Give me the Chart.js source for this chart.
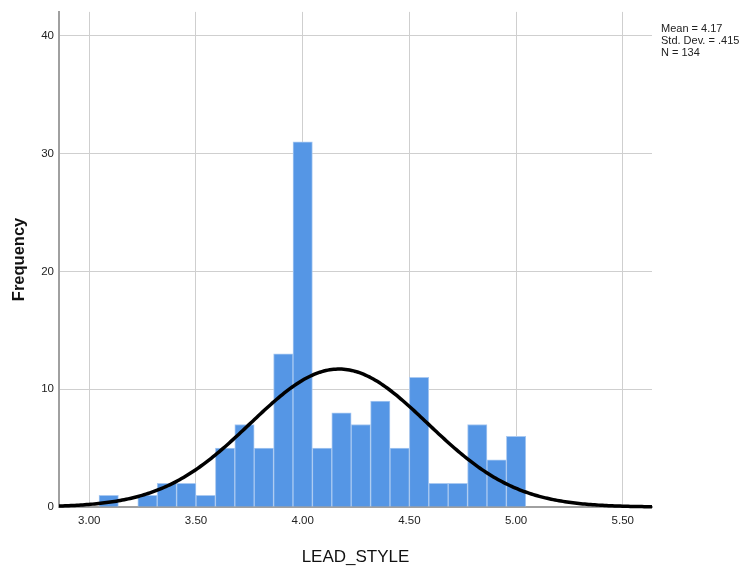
<!DOCTYPE html>
<html>
<head>
<meta charset="utf-8">
<script src="https://cdn.jsdelivr.net/npm/chart.js@4/dist/chart.umd.min.js"></script>
<style>
  html, body { margin: 0; padding: 0; background: #fff; }
  #wrap { width: 742px; height: 568px; position: relative; }
</style>
</head>
<body>
<div id="wrap"><canvas id="c" width="742" height="568"></canvas></div>
<script>
// LEAD_STYLE histogram: 22 bins of width 1/11, centred from 3.09 to 5.00
const binStart = 3.0 + 1 / 22;   // lower edge of the first bin
const binWidth = 1 / 11;
const binCounts = [1, 0, 1, 2, 2, 1, 5, 7, 5, 13, 31, 5, 8, 7, 9, 5, 11, 2, 2, 7, 4, 6];
const xTicks = [3.0, 3.5, 4.0, 4.5, 5.0, 5.5];
const yTicks = [0, 10, 20, 30, 40];
const xRange = [2.858, 5.637];
const yRange = [0, 42.03];
const statMean = 4.17;
const statSD = 0.415;
const statN = 134;
const statLines = ['Mean = 4.17', 'Std. Dev. = .415', 'N = 134'];

const barPoints = binCounts.map((c, i) => ({ x: binStart + (i + 0.5) * binWidth, y: c }));

// fitted normal curve scaled to the histogram's counts
const curvePoints = [];
for (let k = 0; k <= 300; k++) {
  const x = xRange[0] + (xRange[1] - xRange[0]) * k / 300;
  const z = (x - statMean) / statSD;
  const y = statN * binWidth * Math.exp(-0.5 * z * z) / (statSD * Math.sqrt(2 * Math.PI));
  curvePoints.push({ x, y });
}

const statsBox = {
  id: 'statsBox',
  afterDraw(chart) {
    const ctx = chart.ctx;
    ctx.save();
    ctx.fillStyle = '#222';
    ctx.font = '11px "Liberation Sans", Arial, sans-serif';
    ctx.textBaseline = 'middle';
    ctx.textAlign = 'left';
    statLines.forEach((t, i) => ctx.fillText(t, 661, 29 + i * 12));
    ctx.restore();
  }
};

const fixedTicks = (list) => (scale) => { scale.ticks = list.map(v => ({ value: v })); };

new Chart(document.getElementById('c'), {
  type: 'bar',
  data: {
    datasets: [
      {
        type: 'line',
        data: curvePoints,
        borderColor: '#000',
        borderWidth: 3.5,
        pointRadius: 0,
        tension: 0,
        fill: false,
        order: 0,
        clip: false
      },
      {
        type: 'bar',
        data: barPoints,
        backgroundColor: '#5596e5',
        borderColor: '#a9c9f1',
        borderWidth: 1,
        categoryPercentage: 1,
        barPercentage: 1,
        order: 1
      }
    ]
  },
  options: {
    responsive: false,
    animation: false,
    devicePixelRatio: 1,
    layout: { padding: { left: 0, right: 90, top: 11, bottom: 0 } },
    plugins: { legend: { display: false }, tooltip: { enabled: false } },
    scales: {
      x: {
        type: 'linear',
        min: xRange[0],
        max: xRange[1],
        offset: false,
        afterBuildTicks: fixedTicks(xTicks),
        afterFit(scale) { scale.height = 61; },
        grid: { offset: false, color: '#cfcfcf', lineWidth: 1, drawTicks: false },
        border: { color: '#a0a0a0', width: 2 },
        ticks: {
          padding: 7,
          color: '#222',
          font: { family: '"Liberation Sans", Arial, sans-serif', size: 11.5 },
          callback: (v) => Number(v).toFixed(2),
          maxRotation: 0
        },
        title: {
          display: true,
          text: 'LEAD_STYLE',
          color: '#111',
          font: { family: '"Liberation Sans", Arial, sans-serif', size: 17, weight: 'normal' },
          padding: { top: 9, bottom: 0 }
        }
      },
      y: {
        type: 'linear',
        min: yRange[0],
        max: yRange[1],
        afterBuildTicks: fixedTicks(yTicks),
        afterFit(scale) { scale.width = 59; },
        grid: { color: '#cfcfcf', lineWidth: 1, drawTicks: false },
        border: { color: '#a0a0a0', width: 2 },
        ticks: {
          padding: 5,
          color: '#222',
          font: { family: '"Liberation Sans", Arial, sans-serif', size: 11.5 }
        },
        title: {
          display: true,
          text: 'Frequency',
          color: '#111',
          font: { family: '"Liberation Sans", Arial, sans-serif', size: 16.5, weight: 'bold' },
          padding: { top: 10, bottom: 4 }
        }
      }
    }
  },
  plugins: [statsBox]
});
</script>
</body>
</html>
